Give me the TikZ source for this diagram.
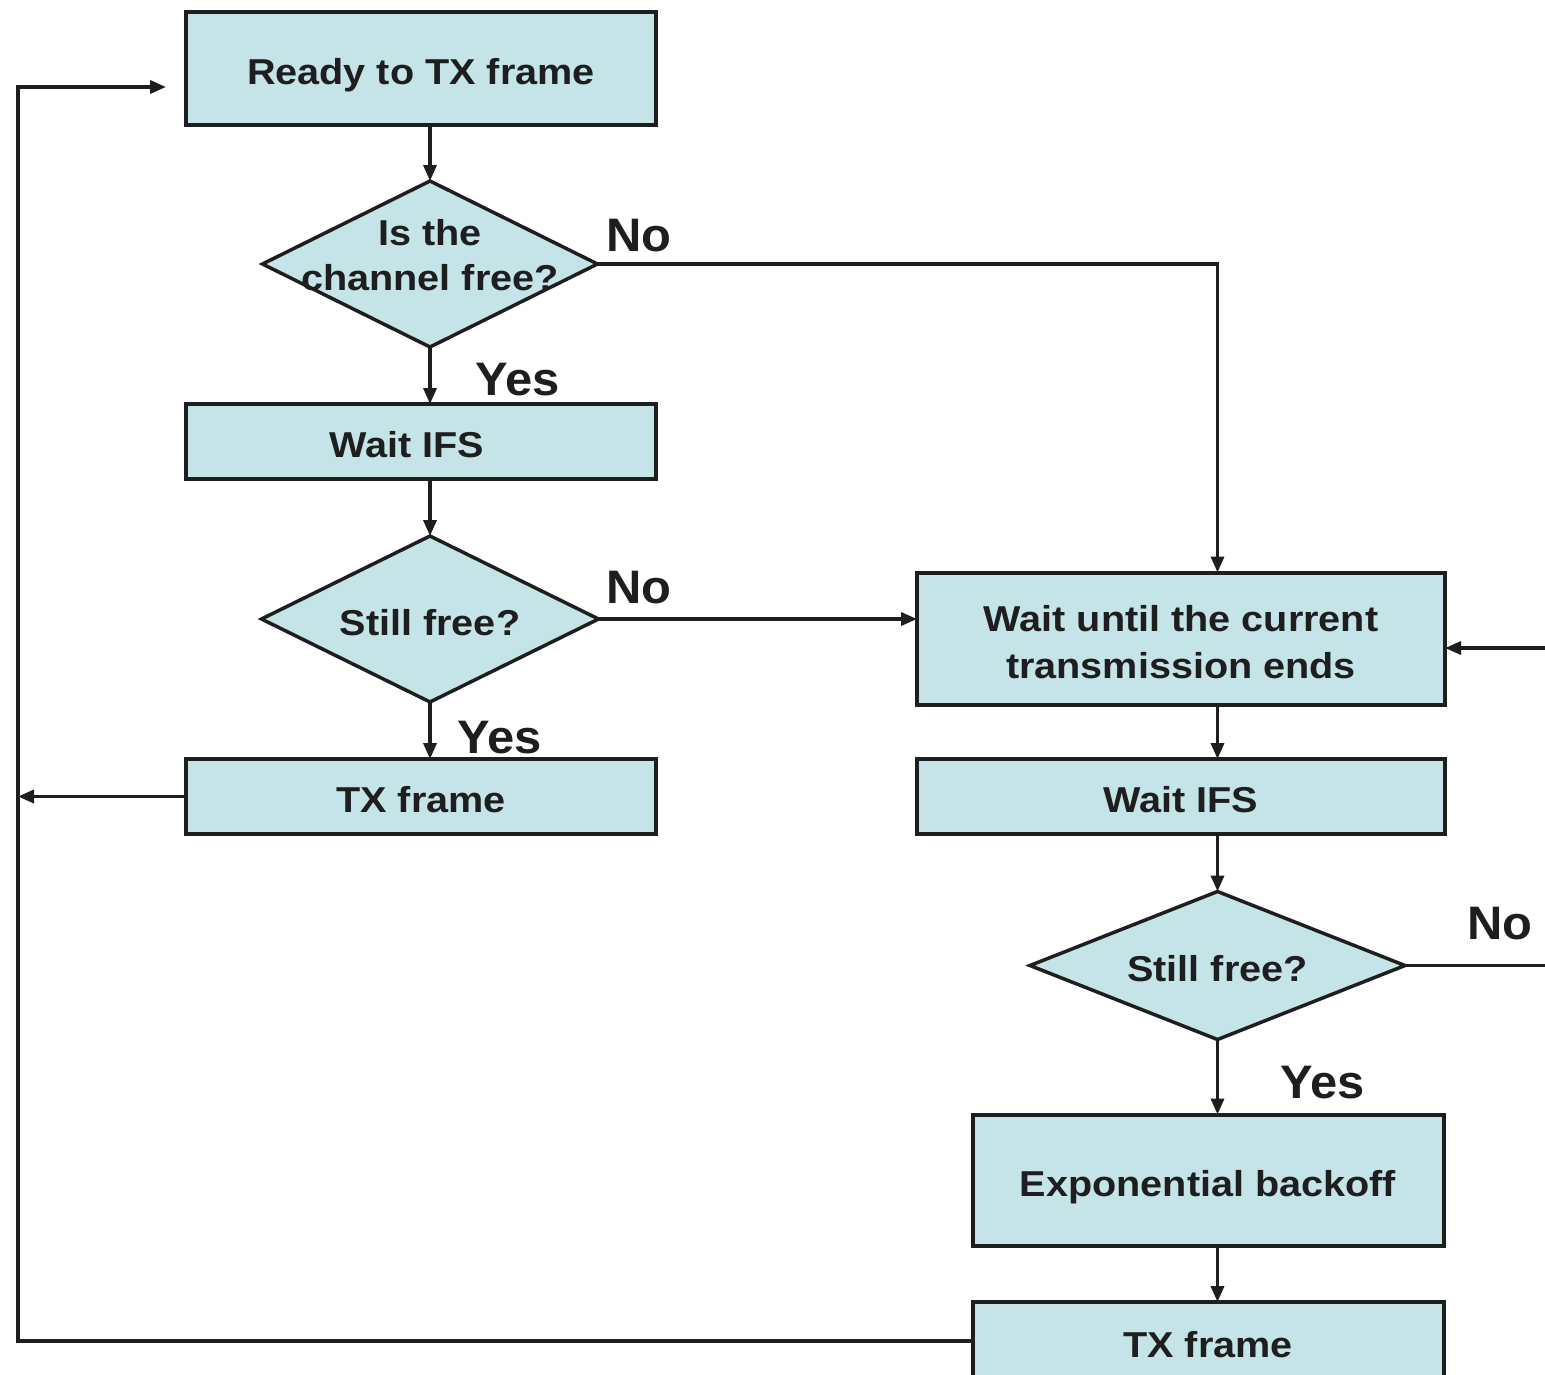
\documentclass[tikz,border=0pt]{standalone}
\usepackage{fontspec}
\usetikzlibrary{shapes.geometric,arrows.meta,calc}
\newfontfamily\boxfont{Liberation Sans}[FakeStretch=1.10]
\newfontfamily\labfont{Liberation Sans}[FakeStretch=1.04]
\definecolor{boxfill}{RGB}{197,228,231}
\definecolor{ink}{RGB}{30,30,30}
\begin{document}
\begin{tikzpicture}[x=1pt,y=-1pt,
  every node/.style={inner sep=0pt,outer sep=0pt},
  proc/.style={draw=ink,line width=4pt,fill=boxfill,rectangle,align=center,
    font=\boxfont\bfseries\fontsize{36}{47}\selectfont,text=ink,
    text height=32pt,text depth=0pt},
  twoline/.style={text height=79pt},
  decide/.style={draw=ink,line width=3.5pt,fill=boxfill,diamond,shape aspect=2,
    align=center,font=\boxfont\bfseries\fontsize{36}{46}\selectfont,text=ink,
    text height=32pt,text depth=0pt},
  qtext/.style={align=center,font=\boxfont\bfseries\fontsize{36}{45}\selectfont,
    text=ink,text height=77pt,text depth=0pt},
  branch/.style={anchor=base,font=\labfont\bfseries\fontsize{47}{50}\selectfont,text=ink},
  flow/.style={draw=ink,line width=3.5pt,-{Triangle[length=16pt,width=13pt]}},
  wire/.style={draw=ink,line width=3.5pt}]
\useasboundingbox (0,0) rectangle (1545,1374);
\clip (0,0) rectangle (1545,1374);

% left column
\node[proc,minimum width=470pt,minimum height=113pt] (ready) at (421,68.5) {Ready to TX frame};
\node[decide,minimum width=335pt,minimum height=166pt] (free) at (430,264) {};
\node[qtext,yshift=12pt] (freetxt) at (free) {Is the\\channel free?};
\node[proc,minimum width=470pt,minimum height=75pt] (ifsA) at (421,441.5) {Wait IFS\hspace*{28pt}};
\node[decide,minimum width=337pt,minimum height=166pt] (stillA) at (430,619) {Still free?};
\node[proc,minimum width=470pt,minimum height=75pt] (txA) at (421,796.5) {TX frame};

% right column
\node[proc,twoline,minimum width=528pt,minimum height=132pt] (busy) at (1181,638.5) {Wait until the current\\transmission ends};
\node[proc,minimum width=528pt,minimum height=75pt] (ifsB) at (1181,796.5) {Wait IFS};
\node[decide,minimum width=375pt,minimum height=148pt] (stillB) at (1217.5,965.5) {Still free?};
\node[proc,minimum width=471pt,minimum height=131pt] (backoff) at (1208,1180) {Exponential backoff};
\node[proc,minimum width=471pt,minimum height=78pt] (txB) at (1208,1341) {TX frame};

% free ends and the return rail
\coordinate (rail) at (18,87);
\coordinate (inR) at (1560,648);
\coordinate (outR) at (1560,965.5);

% branch labels
\node[branch] (noA) at (639,251) {No};
\node[branch] (yesA) at (518,395) {Yes};
\node[branch] (noB) at (639,603) {No};
\node[branch] (yesB) at (500,753) {Yes};
\node[branch] (noC) at (1500,939) {No};
\node[branch] (yesC) at (1323,1098) {Yes};

% connectors, left column
\draw[flow] (free.north |- ready.south) -- (free.north);
\draw[flow] (free.south) -- (free.south |- ifsA.north);
\draw[flow] (stillA.north |- ifsA.south) -- (stillA.north);
\draw[flow] (stillA.south) -- (stillA.south |- txA.north);
\draw[flow] (stillA.east) -- (stillA.east -| busy.west);
\draw[flow] (free.east) -| (stillB.north |- busy.north);
\draw[flow] (txA.west) -- (txA.west -| rail);

% connectors, right column
\draw[flow] (inR) -- (inR -| busy.east);
\draw[flow] (stillB.north |- busy.south) -- (stillB.north |- ifsB.north);
\draw[flow] (stillB.north |- ifsB.south) -- (stillB.north);
\draw[wire] (stillB.east) -- (outR);
\draw[flow] (stillB.south) -- (stillB.south |- backoff.north);
\draw[flow] (stillB.south |- backoff.south) -- (stillB.south |- txB.north);

% loop back to the start
\draw[flow,shorten >=20pt] (txB.west) -| (rail) -- (rail -| ready.west);
\end{tikzpicture}
\end{document}
